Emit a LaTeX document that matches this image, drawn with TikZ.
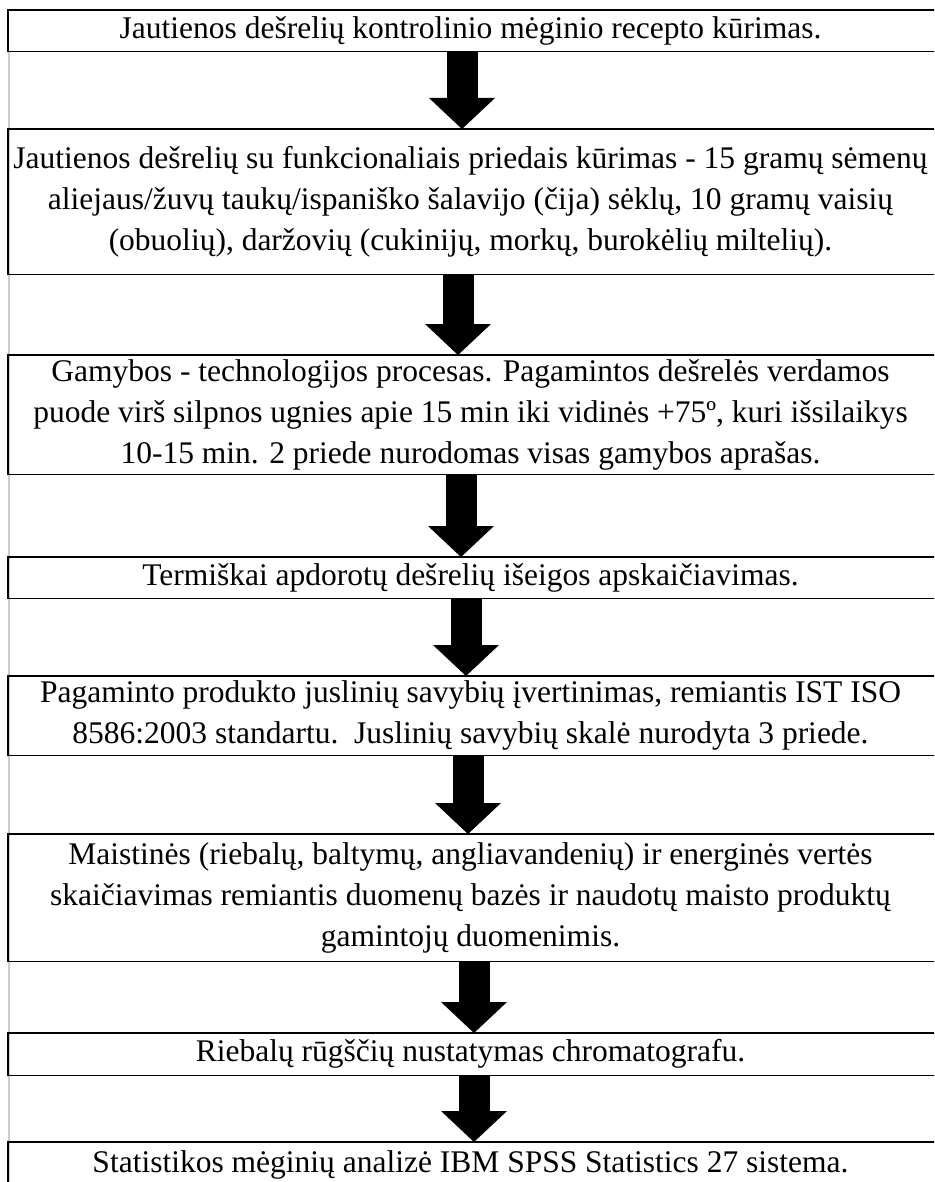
\documentclass[tikz,border=0pt]{standalone}
\usepackage{fontspec}
\setmainfont{Liberation Serif}
\usetikzlibrary{arrows.meta}
\begin{document}
\begin{tikzpicture}[x=1pt,y=-1pt,
  flowbox/.style={rectangle, minimum width=924pt, inner sep=0pt, align=center,
    font=\fontsize{31.5}{41}\selectfont, anchor=north},
  boxline/.style={draw=black, line width=1.7pt},
  bigarrow/.style={line width=31pt, -{Triangle[width=66pt,length=31pt,line width=0pt]}},
  edgeline/.style={draw=black!20, line width=2pt}
]
\useasboundingbox (0,0) rectangle (934,1182);
\clip (0,0) rectangle (934,1182);
\fill[white] (0,0) rectangle (934,1182);
\draw[edgeline] (8.5,51) -- (8.5,1182);

\node[flowbox, minimum height=41pt] (b1) at (470.5,10)
  {Jautienos dešrelių kontrolinio mėginio recepto kūrimas.};
\node[flowbox, minimum height=145pt] (b2) at (470.5,129)
  {Jautienos dešrelių su funkcionaliais priedais kūrimas - 15 gramų sėmenų\\
   aliejaus/žuvų taukų/ispaniško šalavijo (čija) sėklų, 10 gramų vaisių\\
   (obuolių), daržovių (cukinijų, morkų, burokėlių miltelių).};
\node[flowbox, minimum height=119pt] (b3) at (470.5,355)
  {Gamybos - technologijos procesas. Pagamintos dešrelės verdamos\\
   puode virš silpnos ugnies apie 15 min iki vidinės +75º, kuri išsilaikys\\
   10-15 min. 2 priede nurodomas visas gamybos aprašas.};
\node[flowbox, minimum height=41pt] (b4) at (470.5,557)
  {Termiškai apdorotų dešrelių išeigos apskaičiavimas.};
\node[flowbox, minimum height=79pt] (b5) at (470.5,676)
  {Pagaminto produkto juslinių savybių įvertinimas, remiantis IST ISO\\
   8586:2003 standartu.\ \ Juslinių savybių skalė nurodyta 3 priede.};
\node[flowbox, minimum height=127pt] (b6) at (470.5,834)
  {Maistinės (riebalų, baltymų, angliavandenių) ir energinės vertės\\
   skaičiavimas remiantis duomenų bazės ir naudotų maisto produktų\\
   gamintojų duomenimis.};
\node[flowbox, minimum height=42pt] (b7) at (470.5,1033)
  {Riebalų rūgščių nustatymas chromatografu.};
\node[flowbox, minimum height=46pt] (b8) at (470.5,1142)
  {Statistikos mėginių analizė IBM SPSS Statistics 27 sistema.};

\foreach \b in {b1,b2,b3,b4,b5,b6,b7,b8}{
  \draw[boxline] ([xshift=4pt]\b.north east) -- (\b.north west)
    -- (\b.south west) -- ([xshift=4pt]\b.south east);
}

\draw[bigarrow] ([xshift=-8.5pt]b1.south) -- ([xshift=-8.5pt]b2.north);
\draw[bigarrow] ([xshift=-12.5pt]b2.south) -- ([xshift=-12.5pt]b3.north);
\draw[bigarrow] ([xshift=-9.5pt]b3.south) -- ([xshift=-9.5pt]b4.north);
\draw[bigarrow] ([xshift=-4.5pt]b4.south) -- ([xshift=-4.5pt]b5.north);
\draw[bigarrow] ([xshift=-2.5pt]b5.south) -- ([xshift=-2.5pt]b6.north);
\draw[bigarrow] ([xshift=3.5pt]b6.south) -- ([xshift=3.5pt]b7.north);
\draw[bigarrow] ([xshift=3.5pt]b7.south) -- ([xshift=3.5pt]b8.north);
\end{tikzpicture}
\end{document}
